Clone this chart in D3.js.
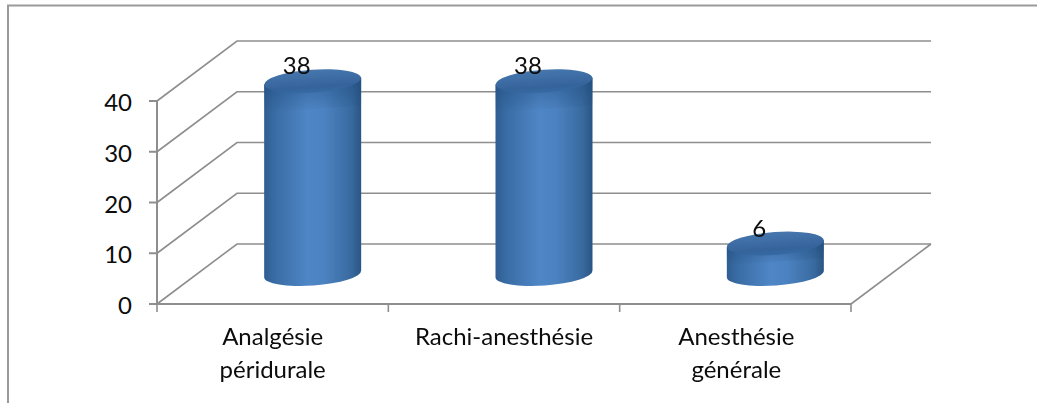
<!DOCTYPE html>
<html><head><meta charset="utf-8">
<script src="https://cdn.jsdelivr.net/npm/d3@7"></script>
<style>html,body{margin:0;padding:0;background:#fff}svg{display:block}text{font-family:Lato,"Open Sans",sans-serif;fill:#0c0c0c}</style>
</head><body><svg id="c" width="1037" height="403"></svg>
<script>
const categories = [["Analgésie","péridurale"],["Rachi-anesthésie"],["Anesthésie","générale"]];
const values = [38,38,6];
const yTicks = [0,10,20,30,40];

const svg = d3.select("#c");
const depthX=80, depthY=-60, fontSize=24;
const x = d3.scaleBand().domain(d3.range(categories.length)).range([157,851]);
const y = d3.scaleLinear().domain([0,40]).range([304,101]);
const rx=48.5, ry=11.5, tilt=-4, lift=3.4;
const grey="#8e8e8e";

const defs=svg.append("defs");
const sideGrad=defs.append("linearGradient").attr("id","side");
[[0,"#2f5d91"],[0.1,"#386ba3"],[0.45,"#4f86c6"],[0.62,"#4c82c1"],[0.9,"#386a9f"],[1,"#2a5583"]]
 .forEach(s=>sideGrad.append("stop").attr("offset",s[0]).attr("stop-color",s[1]));
const capGrad=defs.append("linearGradient").attr("id","cap").attr("x1",0).attr("x2",0).attr("y1",0).attr("y2",1);
[[0,"#4676ac"],[0.3,"#3f6fa6"],[0.75,"#35639a"],[1,"#366aa3"]].forEach(s=>capGrad.append("stop").attr("offset",s[0]).attr("stop-color",s[1]));
const shade=defs.append("linearGradient").attr("id","shade").attr("x1",0).attr("x2",0).attr("y1",0).attr("y2",1);
shade.append("stop").attr("offset",0).attr("stop-color","#1f4a7c").attr("stop-opacity",0.55);
shade.append("stop").attr("offset",1).attr("stop-color","#1f4a7c").attr("stop-opacity",0);
defs.append("filter").attr("id","soft").attr("x","-5%").attr("y","-5%").attr("width","110%").attr("height","110%")
 .append("feGaussianBlur").attr("stdDeviation",0.6);

// outer frame
svg.append("path").attr("d",d3.line()([[1037,5.5],[8,5.5],[8,403]])).attr("fill","none").attr("stroke","#9a9a9a").attr("stroke-width",2);

// gridlines: side wall and back wall
const g=svg.append("g").attr("fill","none").attr("stroke",grey).attr("stroke-width",1.6);
yTicks.forEach(t=>{
  g.append("path").attr("d",d3.line()([[x.range()[0],y(t)],[x.range()[0]+depthX,y(t)+depthY],[x.range()[1]+depthX,y(t)+depthY]]));
});
// floor right edge
g.append("path").attr("d",d3.line()([[x.range()[1],y(0)],[x.range()[1]+depthX,y(0)+depthY]]));

// axes
const ax=svg.append("g").attr("stroke",grey).attr("stroke-width",2).attr("fill","none");
ax.append("line").attr("x1",157).attr("x2",157).attr("y1",y(40)).attr("y2",y(0));
ax.append("line").attr("x1",157).attr("x2",851).attr("y1",y(0)).attr("y2",y(0));
yTicks.forEach(t=>ax.append("line").attr("x1",149).attr("x2",157).attr("y1",y(t)).attr("y2",y(t)));
d3.range(categories.length+1).forEach(i=>{
  const px=157+i*x.bandwidth();
  ax.append("line").attr("x1",px).attr("x2",px).attr("y1",y(0)).attr("y2",y(0)+8).attr("stroke-width",1.6);
});

// y labels
svg.append("g").selectAll("text").data(yTicks).join("text")
 .attr("x",132).attr("y",d=>y(d)+10).attr("text-anchor","end").attr("font-size",fontSize).text(d=>d);

// cylinders
const cyl=svg.append("g").attr("filter","url(#soft)");
values.forEach((v,i)=>{
  const cx=x(i)+x.bandwidth()/2+depthX/2;
  const yb=y(0)+depthY/2, yt=y(v)+depthY/2;
  const body=`M${cx-rx},${yt+lift}L${cx-rx},${yb+lift}A${rx},${ry} ${tilt} 0 0 ${cx+rx},${yb-lift}L${cx+rx},${yt-lift}Z`;
  cyl.append("path").attr("fill","url(#side)").attr("d",body);
  // shadow under the cap, fading downward
  const sh=Math.min(28,(yb-yt)*0.6);
  cyl.append("path").attr("fill","url(#shade)")
   .attr("d",`M${cx-rx},${yt+lift}L${cx-rx},${yt+lift+sh}L${cx+rx},${yt-lift+sh}L${cx+rx},${yt-lift}Z`);
  cyl.append("ellipse").attr("cx",cx).attr("cy",yt).attr("rx",rx).attr("ry",ry)
   .attr("transform",`rotate(${tilt} ${cx} ${yt})`).attr("fill","url(#cap)");
});

// value labels
svg.append("g").selectAll("text").data(values).join("text")
 .attr("x",(d,i)=>x(i)+x.bandwidth()/2+depthX/2-16).attr("y",d=>y(d)+depthY/2-7)
 .attr("text-anchor","middle").attr("font-size",fontSize).text(d=>d);

// category labels
categories.forEach((c,i)=>{
  const t=svg.append("text").attr("text-anchor","middle").attr("font-size",fontSize);
  c.forEach((line,j)=>t.append("tspan").attr("x",x(i)+x.bandwidth()/2+(i==2?1:i==1?0:0)).attr("y",345+j*33).text(line));
});
</script></body></html>
